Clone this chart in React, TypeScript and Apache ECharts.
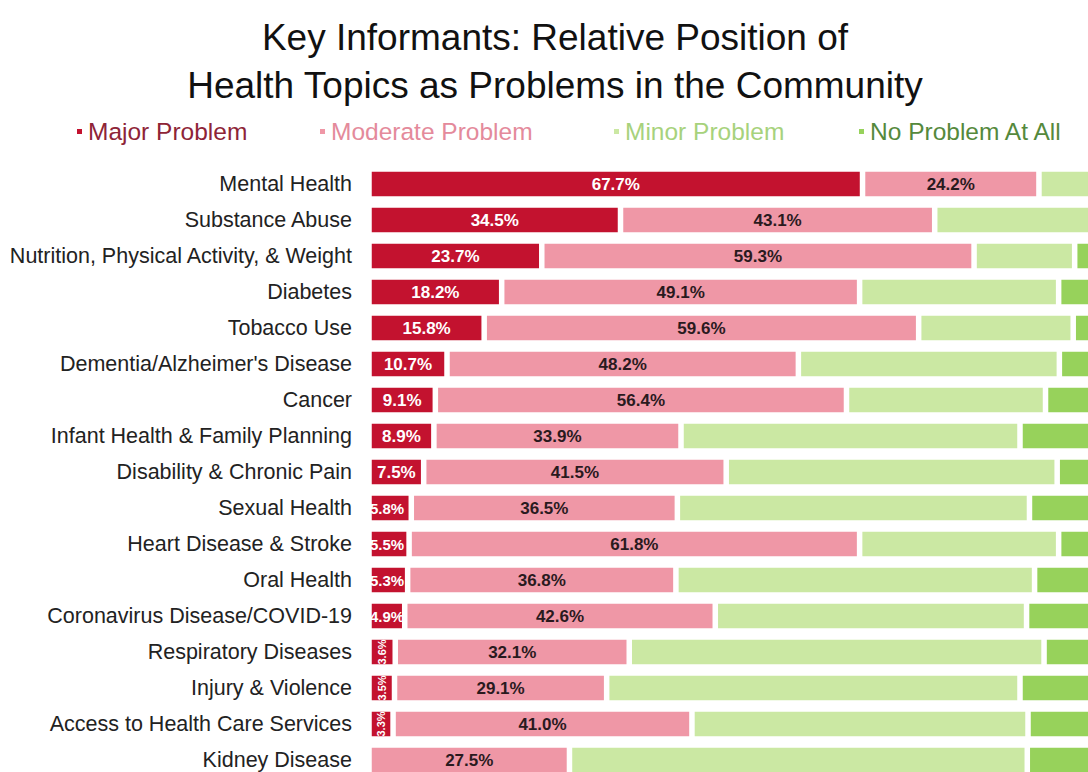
import React, { useEffect, useRef } from "react";
import * as echarts from "echarts";

const categories = [
  "Mental Health",
  "Substance Abuse",
  "Nutrition, Physical Activity, & Weight",
  "Diabetes",
  "Tobacco Use",
  "Dementia/Alzheimer's Disease",
  "Cancer",
  "Infant Health & Family Planning",
  "Disability & Chronic Pain",
  "Sexual Health",
  "Heart Disease & Stroke",
  "Oral Health",
  "Coronavirus Disease/COVID-19",
  "Respiratory Diseases",
  "Injury & Violence",
  "Access to Health Care Services",
  "Kidney Disease",
];

const majorProblem = [67.7, 34.5, 23.7, 18.2, 15.8, 10.7, 9.1, 8.9, 7.5, 5.8, 5.5, 5.3, 4.9, 3.6, 3.5, 3.3, 0];
const moderateProblem = [24.2, 43.1, 59.3, 49.1, 59.6, 48.2, 56.4, 33.9, 41.5, 36.5, 61.8, 36.8, 42.6, 32.1, 29.1, 41.0, 27.5];
const minorProblem = [7.3, 21.6, 13.8, 27.3, 21.2, 35.8, 27.3, 46.5, 45.4, 48.3, 27.3, 49.2, 42.7, 56.9, 56.7, 46.1, 62.8];
const noProblem = [0.8, 0.8, 3.2, 5.4, 3.4, 5.3, 7.2, 10.7, 5.6, 9.4, 5.4, 8.7, 9.8, 7.4, 10.7, 9.6, 9.7];

const seriesNames = ["Major Problem", "Moderate Problem", "Minor Problem", "No Problem At All"];
const barColors = ["#c3122f", "#ef97a6", "#cbe8a3", "#97d25b"];
const legendTextColors = ["#8e2437", "#e48a9b", "#a7d27c", "#55893c"];
const legendLefts = [75, 318, 612, 857];

export default function App() {
  const ref = useRef<HTMLDivElement>(null);

  useEffect(() => {
    if (!ref.current) return;
    const chart = echarts.init(ref.current, undefined, { renderer: "svg" });

    const fmt = (p: any) => (p.value > 0 ? p.value.toFixed(1) + "%" : "");
    const labelFont = "'Liberation Sans', Arial, sans-serif";

    const majorData = majorProblem.map((v) => {
      if (v > 0 && v < 4) return { value: v, label: { rotate: 90, fontSize: 11 } };
      if (v >= 4 && v < 6)
        return { value: v, label: { position: "insideLeft", distance: 1, fontSize: 15 } };
      return { value: v };
    });

    const allData = [majorData, moderateProblem, minorProblem, noProblem];

    const series = seriesNames.map((name, i) => ({
      name,
      type: "bar",
      stack: "total",
      barWidth: 30,
      data: allData[i],
      itemStyle: { color: barColors[i], borderColor: "#ffffff", borderWidth: 2.75 },
      label:
        i < 2
          ? {
              show: true,
              position: "inside",
              formatter: fmt,
              color: i === 0 ? "#ffffff" : "#2a1a1e",
              fontWeight: "bold",
              fontSize: 17,
              fontFamily: labelFont,
            }
          : { show: false },
      emphasis: { disabled: true },
    }));

    chart.setOption({
      animation: false,
      backgroundColor: "#ffffff",
      title: {
        text: "Key Informants: Relative Position of\nHealth Topics as Problems in the Community",
        left: "center",
        top: 8,
        textStyle: {
          fontFamily: "'Liberation Sans', Arial, sans-serif",
          fontWeight: "normal",
          fontSize: 37,
          lineHeight: 48,
          color: "#111111",
        },
      },
      legend: seriesNames.map((name, i) => ({
        data: [
          {
            name,
            itemStyle: { color: barColors[i] },
            textStyle: { color: legendTextColors[i] },
          },
        ],
        left: legendLefts[i],
        top: 119,
        padding: 0,
        icon: "rect",
        itemWidth: 7,
        itemHeight: 7,
        selectedMode: false,
        textStyle: {
          fontFamily: "'Liberation Sans', Arial, sans-serif",
          fontSize: 24.5,
        },
      })),
      grid: { left: 369, right: 12, top: 166, bottom: 12, containLabel: false },
      xAxis: {
        type: "value",
        min: 0,
        max: 100,
        show: false,
      },
      yAxis: {
        type: "category",
        data: categories,
        inverse: true,
        axisLine: { show: false },
        axisTick: { show: false },
        axisLabel: {
          margin: 17,
          fontSize: 21.5,
          color: "#222222",
          fontFamily: "'Liberation Sans', Arial, sans-serif",
        },
      },
      series,
    });

    return () => chart.dispose();
  }, []);

  return (
    <div
      style={{
        position: "fixed",
        left: 0,
        top: 0,
        width: 1088,
        height: 772,
        overflow: "hidden",
        background: "#ffffff",
      }}
    >
      <div ref={ref} style={{ width: 1110, height: 790 }} />
    </div>
  );
}
